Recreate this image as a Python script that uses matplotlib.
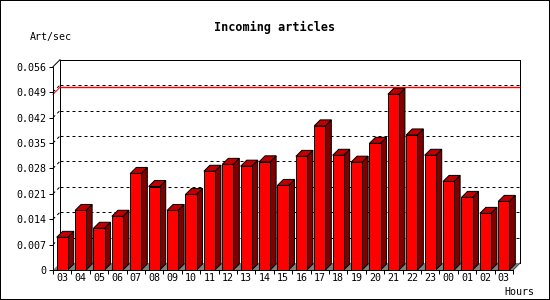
import matplotlib
matplotlib.use('Agg')
import matplotlib.pyplot as plt
from matplotlib import patches
import numpy as np

# data
hours = ['03', '04', '05', '06', '07', '08', '09', '10', '11', '12', '13', '14',
         '15', '16', '17', '18', '19', '20', '21', '22', '23', '00', '01', '02', '03']
rate = [0.0090, 0.0164, 0.0115, 0.0148, 0.0266, 0.0230, 0.0164, 0.0208, 0.0272,
        0.0291, 0.0286, 0.0298, 0.0233, 0.0313, 0.0397, 0.0316, 0.0297, 0.0349,
        0.0484, 0.0372, 0.0316, 0.0244, 0.0200, 0.0156, 0.0189]
yticks = [0, 0.007, 0.014, 0.021, 0.028, 0.035, 0.042, 0.049, 0.056]
ytick_labels = ['0', '0.007', '0.014', '0.021', '0.028', '0.035', '0.042', '0.049', '0.056']

plt.rcParams['lines.scale_dashes'] = False

W, H = 550, 300
fig = plt.figure(figsize=(W / 100, H / 100), dpi=100)
fig.patch.set_facecolor('white')

# front plot box in pixels
left, right, bottom, top = 53, 513, 270, 66.7
ax = fig.add_axes([left / W, 1 - bottom / H, (right - left) / W, (bottom - top) / H])
n = len(rate)
ymax = yticks[-1]
ax.set_xlim(0, n)
ax.set_ylim(0, ymax)
ax.set_facecolor('none')

px_x = (right - left) / n          # pixels per bar slot
px_y = (bottom - top) / ymax       # pixels per unit
# 3d depth, in data units
fdx, fdy = 7 / px_x, 7 / px_y      # frame
bdx, bdy = 6 / px_x, 6 / px_y      # bars
lw = 0.72


def seg(xs, ys, **kw):
    # straight pieces get snapped to the pixel grid, diagonals do not
    ax.plot(xs, ys, lw=lw, clip_on=False, solid_capstyle='projecting', **kw)


# back plane frame
seg([0, fdx], [ymax, ymax + fdy], color='black')
seg([fdx, n + fdx, n + fdx], [ymax + fdy, ymax + fdy, fdy], color='black')
seg([n + fdx, n], [fdy, 0], color='black')
seg([fdx, fdx], [fdy, ymax + fdy], color='black')

# dotted grid on back plane
for v in yticks[1:-1]:
    seg([0, fdx], [v, v + fdy], color='black', dashes=(2.16, 2.16))
    seg([fdx, n + fdx], [v + fdy, v + fdy], color='black', dashes=(2.16, 2.16))

# max line
m = max(rate)
seg([0, fdx], [m, m + fdy], color='#ff0000', zorder=2.5)
ax.hlines(m + fdy, fdx, n + fdx, colors='#ff0000', lw=1.0, clip_on=False, zorder=2.5)

# floor
ax.add_patch(patches.Polygon([(0, 0), (fdx, fdy), (n + fdx, fdy), (n, 0)],
                             closed=True, facecolor='#808080', edgecolor='none',
                             clip_on=False, zorder=3))

# bars
bw = 0.6
for i, v in enumerate(rate):
    x0 = i + (1 - bw) / 2
    x1 = x0 + bw
    side = [(x1, 0), (x1 + bdx, bdy), (x1 + bdx, v + bdy), (x1, v)]
    topf = [(x0, v), (x0 + bdx, v + bdy), (x1 + bdx, v + bdy), (x1, v)]
    ax.add_patch(patches.Polygon(side, closed=True, facecolor='#800000',
                                 edgecolor='black', lw=lw, clip_on=False, zorder=3))
    ax.add_patch(patches.Polygon(topf, closed=True, facecolor='#c00000',
                                 edgecolor='black', lw=lw, clip_on=False, zorder=3))
    ax.add_patch(patches.Rectangle((x0, 0), bw, v, facecolor='#ff0000',
                                   edgecolor='black', lw=lw, clip_on=False, zorder=3))

# axes
for s in ['top', 'right']:
    ax.spines[s].set_visible(False)
for s in ['left', 'bottom']:
    ax.spines[s].set_linewidth(lw)
    ax.spines[s].set_zorder(5)

font = 'DejaVu Sans Mono'
ax.set_yticks(yticks)
ax.set_yticklabels(ytick_labels, family=font, fontsize=7.2)
ax.tick_params(axis='y', length=2.9, width=lw, pad=2.2)

ax.set_xticks(np.arange(n + 1))
ax.set_xticklabels([])
ax.set_xticks(np.arange(n) + 0.5, minor=True)
ax.set_xticklabels(hours, minor=True, family=font, fontsize=7.2)
ax.tick_params(axis='x', which='major', length=2.9, width=lw)
ax.tick_params(axis='x', which='minor', length=0, pad=2)

fig.text(275 / W, 1 - 27 / H, 'Incoming articles', family=font, weight='bold',
         fontsize=8.5, ha='center', va='center')
fig.text(30 / W, 1 - 37 / H, 'Art/sec', family=font, fontsize=7.2, ha='left', va='center')
fig.text(504 / W, 1 - 292 / H, 'Hours', family=font, fontsize=7.2, ha='left', va='center')

# image border (half of the line falls outside the canvas)
fig.add_artist(patches.Rectangle((0, 0), 1, 1, transform=fig.transFigure, fill=False,
                                 edgecolor='black', lw=1.44))

fig.savefig('out.png', dpi=100)
